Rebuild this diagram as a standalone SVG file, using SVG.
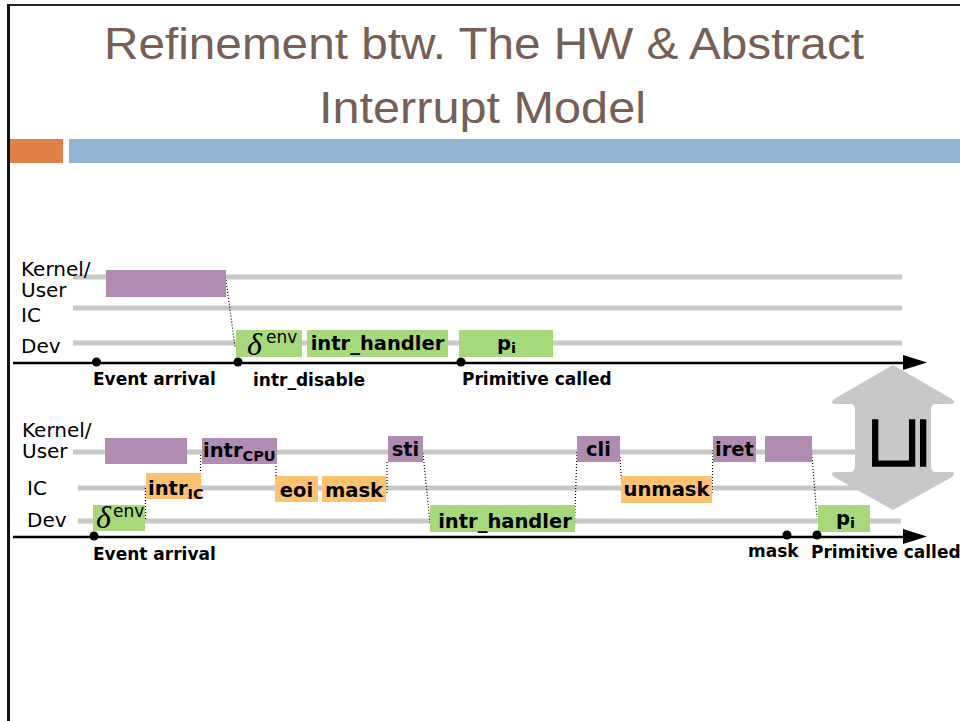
<svg xmlns="http://www.w3.org/2000/svg" width="960" height="721" viewBox="0 0 960 721">
<style>
.title{font-family:"Liberation Sans",Arial,sans-serif;font-size:44px;fill:#775F55}
.lane{stroke:#C8C8C8;stroke-width:5;fill:none}
.lbl{font-family:"DejaVu Sans",sans-serif;font-size:20px;fill:#000}
.ax{font-family:"DejaVu Sans",sans-serif;font-size:17px;font-weight:bold;fill:#000}
.bx{font-family:"DejaVu Sans",sans-serif;font-size:19.5px;font-weight:bold;fill:#000}
.sub{font-size:14.5px}
.pur{fill:#B08CB2}
.grn{fill:#A6D97B}
.org{fill:#FDC172}
.dot{stroke:#000;stroke-width:1.2;stroke-dasharray:1 2;fill:none}
.axis{stroke:#000;stroke-width:2.5;fill:none}
.delta{font-family:"Liberation Serif",serif;font-style:italic;font-size:32px;fill:#000}
.env{font-family:"DejaVu Sans",sans-serif;font-size:17px;fill:#000}
</style>
<rect width="960" height="721" fill="#fff"/>
<!-- frame -->
<line x1="8" y1="5" x2="960" y2="5" stroke="#222" stroke-width="2"/>
<line x1="8.5" y1="4" x2="8.5" y2="721" stroke="#111" stroke-width="3"/>
<!-- title -->
<g id="title">
<text class="title" x="104" y="59" textLength="760" lengthAdjust="spacingAndGlyphs">Refinement btw. The HW &amp; Abstract</text>
<text class="title" x="319" y="123" textLength="327" lengthAdjust="spacingAndGlyphs">Interrupt Model</text>
</g>
<rect x="10" y="139" width="53" height="24" fill="#DF8044"/>
<rect x="69" y="139" width="891" height="24" fill="#94B5D2"/>

<!-- top lanes -->
<g id="top-lanes">
<line class="lane" x1="73" y1="277" x2="902" y2="277"/>
<line class="lane" x1="73" y1="308" x2="902" y2="308"/>
<line class="lane" x1="73" y1="343" x2="902" y2="343"/>
<text class="lbl" x="21" y="276">Kernel/</text>
<text class="lbl" x="21" y="297">User</text>
<text class="lbl" x="21" y="322">IC</text>
<text class="lbl" x="21" y="353">Dev</text>
</g>

<!-- bottom lanes -->
<g id="bottom-lanes">
<line class="lane" x1="73" y1="452" x2="902" y2="452"/>
<line class="lane" x1="78" y1="488" x2="902" y2="488"/>
<line class="lane" x1="78" y1="521" x2="901" y2="521"/>
<text class="lbl" x="22" y="437">Kernel/</text>
<text class="lbl" x="22" y="458">User</text>
<text class="lbl" x="27" y="495">IC</text>
<text class="lbl" x="27" y="527">Dev</text>
</g>

<!-- connectors -->
<g id="connectors">
<path class="dot" d="M226,280 L235,347"/>
<path class="dot" d="M145.5,488 L145.5,521"/>
<path class="dot" d="M200.5,455 L200.5,497"/>
<path class="dot" d="M276,463 L276,480"/>
<path class="dot" d="M387,462 L387,493"/>
<path class="dot" d="M423,453 L430,523"/>
<path class="dot" d="M574.5,525 L577,450"/>
<path class="dot" d="M620,457 L622,490"/>
<path class="dot" d="M712,493 L713,450"/>
<path class="dot" d="M811,445 L817,517"/>
</g>

<!-- top diagram nodes -->
<g id="top-kernel"><rect class="pur" x="106" y="270" width="120" height="27"/></g>
<g id="top-delta">
<rect class="grn" x="236" y="330" width="66" height="27"/>
<text class="delta" x="247" y="355">δ</text><text class="env" x="266" y="343">env</text>
</g>
<g id="top-handler">
<rect class="grn" x="307" y="330" width="141" height="27"/>
<text class="bx" x="377.5" y="350" text-anchor="middle">intr_handler</text>
</g>
<g id="top-pi">
<rect class="grn" x="459" y="330" width="94" height="27"/>
<text class="bx" x="497" y="350">p<tspan class="sub" dy="3">i</tspan></text>
</g>

<!-- top axis -->
<g id="top-axis">
<line class="axis" x1="13" y1="363" x2="903" y2="363"/>
<path d="M903,355 L927,362.5 L903,370 Z" fill="#000"/>
<circle cx="96.5" cy="362" r="4.5"/>
<circle cx="238" cy="362" r="4.5"/>
<circle cx="461" cy="362" r="4.5"/>
<text class="ax" x="93" y="385">Event arrival</text>
<text class="ax" x="253" y="386">intr_disable</text>
<text class="ax" x="462" y="385">Primitive called</text>
</g>

<!-- bottom diagram nodes -->
<g id="b-kernel"><rect class="pur" x="105" y="438" width="82" height="26"/></g>
<g id="b-intr-cpu">
<rect class="pur" x="202" y="438" width="75" height="26"/>
<text class="bx" x="203" y="457">intr<tspan class="sub" dy="4">CPU</tspan></text>
</g>
<g id="b-intr-ic">
<rect class="org" x="146" y="473" width="55" height="26"/>
<text class="bx" x="148" y="495">intr<tspan class="sub" dy="4">IC</tspan></text>
</g>
<g id="b-delta">
<rect class="grn" x="93" y="505" width="52" height="26"/>
<text class="delta" x="96" y="528">δ</text><text class="env" x="113" y="517">env</text>
</g>
<g id="b-eoi">
<rect class="org" x="275" y="476" width="43" height="26"/>
<text class="bx" x="296.5" y="497" text-anchor="middle">eoi</text>
</g>
<g id="b-mask">
<rect class="org" x="322" y="476" width="64" height="26"/>
<text class="bx" x="354" y="497" text-anchor="middle">mask</text>
</g>
<g id="b-sti">
<rect class="pur" x="388" y="436" width="35" height="26"/>
<text class="bx" x="405.5" y="456" text-anchor="middle">sti</text>
</g>
<g id="b-handler">
<rect class="grn" x="430" y="505" width="145" height="27"/>
<text class="bx" x="505" y="528" text-anchor="middle">intr_handler</text>
</g>
<g id="b-cli">
<rect class="pur" x="577" y="436" width="43" height="26"/>
<text class="bx" x="598.5" y="456" text-anchor="middle">cli</text>
</g>
<g id="b-unmask">
<rect class="org" x="621" y="476" width="91" height="27"/>
<text class="bx" x="666.5" y="496" text-anchor="middle">unmask</text>
</g>
<g id="b-iret">
<rect class="pur" x="713" y="436" width="43" height="26"/>
<text class="bx" x="734.5" y="456" text-anchor="middle">iret</text>
</g>
<g id="b-user"><rect class="pur" x="765" y="436" width="47" height="26"/></g>

<!-- refinement arrow -->
<g id="refine-arrow">
<path d="M893,365 L952,399 Q957,404 950,404 L936,404 Q931,404 931,409 L931,467 Q931,472 936,472 L950,472 Q957,472 952,477 L893,510 L834,477 Q829,472 836,472 L850,472 Q855,472 855,467 L855,409 Q855,404 850,404 L836,404 Q829,404 834,399 Z" fill="#C8C8C8"/>
<text x="893" y="443" transform="rotate(-90 893 443)" text-anchor="middle" dominant-baseline="central" font-family="DejaVu Sans, sans-serif" font-size="76" fill="#000">⊑</text>
</g>

<g id="b-pi">
<rect class="grn" x="818" y="505" width="52" height="27"/>
<text class="bx" x="836" y="525">p<tspan class="sub" dy="3">i</tspan></text>
</g>

<!-- bottom axis -->
<g id="bottom-axis">
<line class="axis" x1="13" y1="537" x2="903" y2="537"/>
<path d="M903,529 L927,536.5 L903,544 Z" fill="#000"/>
<circle cx="94" cy="536" r="4.5"/>
<circle cx="787" cy="535" r="4.5"/>
<circle cx="817" cy="535" r="4.5"/>
<text class="ax" x="93" y="560">Event arrival</text>
<text class="ax" x="748" y="557">mask</text>
<text class="ax" x="811" y="558">Primitive called</text>
</g>
</svg>
